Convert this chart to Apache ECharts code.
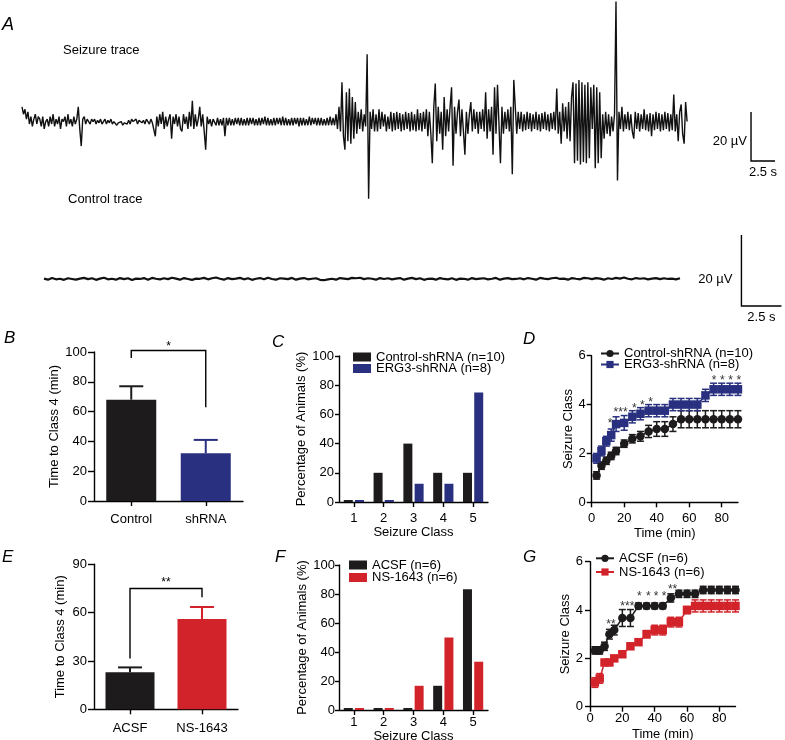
<!DOCTYPE html>
<html><head><meta charset="utf-8">
<script src="https://cdn.jsdelivr.net/npm/echarts@6/dist/echarts.min.js"></script>
<style>html,body{margin:0;padding:0;background:#fff}#c{width:785px;height:740px}</style>
</head><body><div id="c"></div>
<script>
// ---------------- DATA ----------------
// Panel A: EEG traces (µV), sampled at a fixed interval
const seizureDt_s = 0.1543;
const seizureTrace_uV = [
 6,3,5,1,4,-1,2,-2,1,3,
 -1,2,1,-2,2,-3,0,1,-2,2,
 -1,3,-2,1,-1,2,-3,1,0,2,
 -2,3,-1,1,-2,2,-1,1,6,-3,
 -10,1,2,-1,1,0,-1,1,0,1,
 -1,0.5,-0.5,1,-1,0,1,-1,0.5,-0.5,
 1,-1,0,0.5,-1.5,-0.5,-1,0,-1.5,-0.5,
 0,-1,0.5,-1,1,0,-0.5,1,-1,0.5,
 1,-0.5,0.5,-1,1,0,-1,1,-0.5,0,
 -6,2,-2,3,-1,4,-3,2,-2,1,
 3,-7,2,-1,3,-2,2,-3,-4,3,
 -1,2,-3,4,-2,8.5,-3,3,-2,1,
 6,-2,3,-4,-11.5,2,-1,1,-2,1,
 1.5,-1.5,1.5,-1.5,1,-1.5,1.5,-6,1.5,-1.5,
 1.5,-1.5,1,-1.5,1.5,-1,1.5,-1.5,1.5,-1.5,
 1,-1.5,1.5,-1.5,1.5,-1,1.5,-1.5,1,-1.5,
 1.5,-1.5,1.5,-1,2,-1.5,1.5,-1.5,1,-1.5,
 1.5,-1.5,1.5,-1,1.5,-1.5,2,-1.5,1.5,-1.5,
 1,-1.5,1.5,-1.5,1.5,-1,1.5,-2,1.5,-1.5,
 1.5,-1.5,1,-1.5,2,-1.5,1.5,-1,1.5,-1.5,
 1.5,-1.5,1.5,-1.5,1,-1.5,1.5,-1.5,2,-1.5,
 1.5,-1.5,3,-3,6,-4,16,-6,-11.5,12,
 -8,13.5,-9,10,-7,8,-5,4,-3,5,
 -4,3,-2,27.5,-31.5,4,-3,5,-4,3,
 -4,5,-3,4,-2,3,-4,2,-3,4,
 -4,3.5,-3.5,4,-3,3.5,-4,3,-3.5,4,
 -3,3.5,-4,4,-3.5,3,-4,5,-3.5,3.5,
 -4,4,-3,5,-6,4,-5,-17,6,15.5,
 -8,6,-5,4,-11.5,10,-6,5,-4,6,
 14,-18,6,-5,4,9,-6,5,-4,-13.5,
 4,-5,3,8,-4,5,-3,4,-5,4,
 -3,5,-4,12,-7,5,-4,6,-13.5,14,
 -5,15,15.5,-17,6,-5,4,-3,5,-4,
 6,-21.5,17,17,-5,4,-3,4,-4,3,
 -3.5,4,-3,3.5,-4,3,-3,4,-3.5,3,
 -4,3.5,-3,4,-3.5,3,-4,3.5,-3,4,
 -3.5,13.5,-5,4,-9,7.5,-4,6,-7,8,
 -8,10,16,-17,15.5,-16,17,-17.5,16,-16.5,
 15,-17,16,-15,14,-3,15,-19,14,-17,
 12,-15,3,-7,4,-5,3,-6,2,-4,
 3,49,-24,4,-3,6,-4,3,-3,4,
 -3.5,3,-4,-7,4,-3,3.5,-4,3,-3,
 5,-3.5,3,-4,3.5,-6,3,-3.5,4,-3,
 3.5,-4,3,-3.5,4,-3,3.5,-4,3,-3.5,
 11,-4,3,-8,4,7,-5,-9,8,0
];
const controlDt_s = 0.25;
const controlTrace_uV = [
 0.1,-0.2,0.25,-0.1,0.05,-0.25,0.2,0.0,-0.2,0.1,
 0.3,-0.05,0.2,-0.25,0.1,0.35,-0.1,0.05,-0.2,0.25,
 -0.05,0.2,-0.3,0.1,0.0,0.25,-0.2,0.3,0.05,-0.1,
 0.2,-0.05,0.35,0.1,-0.2,0.25,0.0,-0.25,0.1,0.05,
 0.3,-0.1,0.2,0.4,0.05,-0.2,0.25,-0.05,0.1,0.3,
 -0.1,0.2,-0.25,0.05,0.25,-0.1,0.35,0.0,-0.2,0.2,
 0.1,-0.05,0.3,-0.2,0.1,0.25,-0.1,0.05,0.2,-0.25,
 -0.35,-0.1,0.05,-0.2,0.25,0.1,-0.05,0.3,0.2,0.35,
 -0.05,0.2,0.05,-0.2,0.25,0.0,0.2,-0.1,0.1,0.25,
 -0.2,0.1,0.3,-0.05,0.2,-0.25,0.05,0.1,-0.2,0.25,
 0.0,-0.1,0.2,-0.25,0.1,0.05,-0.2,0.25,-0.05,0.1,
 0.2,-0.1,0.05,0.3,-0.2,0.1,0.25,-0.05,0.0,0.2,
 -0.1,0.25,0.05,-0.2,0.3,0.1,-0.05,0.2,0.35,0.0,
 0.1,-0.2,0.25,0.05,-0.1,0.3,0.2,-0.05,0.25,0.1,
 -0.2,0.2,0.0,0.3,0.1,0.4,0.05,-0.1,0.25,0.05,
 0.2,-0.1,0.1,0.25,-0.05,0.2,0.0,0.1,-0.1,0.2
];
const scaleBarAmp_uV = 20;
const scaleBarTime_s = 2.5;
const seizureScaleAnchor = [75.94, -16.1];   // [s, µV]
const controlScaleAnchor = [43.59, -7.6];

// Panel B
const groupsB = ['Control', 'shRNA'];
const meanB = [68, 32];
const semB = [9, 9];
const bracketB = [0, 1, 101, 96, 63];   // from, to, top, left end, right end
const sigB = '*';

// Panel C
const seizureClasses = ['1', '2', '3', '4', '5'];
const pctControlShRNA = [0, 20, 40, 20, 20];
const pctERG3ShRNA = [0, 0, 12.5, 12.5, 75];

// Panel D
const timesMin = [3, 6, 9, 12, 15, 20, 25, 30, 35, 40, 45, 50, 55, 60, 65, 70, 75, 80, 85, 90];
const classControlShRNA = [1.1, 1.5, 1.7, 1.9, 2.1, 2.4, 2.6, 2.7, 2.9, 3.0, 3.0, 3.2, 3.4, 3.4, 3.4, 3.4, 3.4, 3.4, 3.4, 3.4];
const semControlShRNA = [0.15, 0.15, 0.15, 0.15, 0.15, 0.15, 0.17, 0.2, 0.25, 0.3, 0.3, 0.3, 0.35, 0.35, 0.35, 0.35, 0.35, 0.35, 0.35, 0.35];
const classERG3ShRNA = [1.8, 2.1, 2.5, 2.75, 3.2, 3.25, 3.5, 3.625, 3.75, 3.75, 3.75, 4.0, 4.0, 4.0, 4.0, 4.375, 4.625, 4.625, 4.625, 4.625];
const semERG3ShRNA = [0.2, 0.2, 0.2, 0.25, 0.3, 0.3, 0.25, 0.25, 0.25, 0.25, 0.25, 0.25, 0.25, 0.25, 0.25, 0.25, 0.25, 0.25, 0.25, 0.25];
const starsDAt = [[11.3, 3.34], [17.8, 3.78], [26.2, 3.94], [31.2, 4.08], [36.3, 4.19], [75.3, 5.1], [80.4, 5.1], [85.5, 5.1], [90.6, 5.1]];
const starsDText = ['*', '***', '*', '*', '*', '*', '*', '*', '*'];

// Panel E
const groupsE = ['ACSF', 'NS-1643'];
const meanE = [23, 56];
const semE = [3, 7.5];
const bracketE = [0, 1, 75, 31.5, 69.5];
const sigE = '**';

// Panel F
const pctACSF = [0, 0, 0, 16.7, 83.3];
const pctNS1643 = [0, 0, 16.7, 50, 33.3];

// Panel G
const classACSF = [2.33, 2.33, 2.5, 3.0, 3.17, 3.67, 3.67, 4.17, 4.17, 4.17, 4.17, 4.5, 4.67, 4.67, 4.67, 4.83, 4.83, 4.83, 4.83, 4.83];
const semACSF = [0.15, 0.15, 0.17, 0.2, 0.2, 0.35, 0.35, 0.12, 0.12, 0.12, 0.12, 0.17, 0.15, 0.15, 0.15, 0.15, 0.15, 0.15, 0.15, 0.15];
const classNS1643 = [1.0, 1.17, 1.83, 1.83, 2.0, 2.17, 2.5, 2.67, 3.0, 3.17, 3.17, 3.5, 3.5, 4.0, 4.17, 4.17, 4.17, 4.17, 4.17, 4.17];
const semNS1643 = [0.2, 0.2, 0.05, 0.05, 0.05, 0.1, 0.1, 0.1, 0.15, 0.2, 0.2, 0.2, 0.2, 0.15, 0.25, 0.25, 0.25, 0.25, 0.25, 0.25];
const starsGAt = [[13, 3.5], [23.1, 4.28], [30.5, 4.69], [36.1, 4.69], [40.8, 4.69], [45.8, 4.69], [51.1, 4.97]];
const starsGText = ['**', '***', '*', '*', '*', '*', '**'];

// ---------------- STYLE ----------------
const FONT = '"Liberation Sans", Arial, Helvetica, sans-serif';
const BLACK = '#1d1b1c', BLUE = '#28307f', RED = '#d2232b';
const AX = '#000';

function yAx(gi, min, max, interval, name, nameGap, margin, tickLen) {
  return {
    gridIndex: gi, type: 'value', min, max, interval,
    name, nameLocation: 'middle', nameGap, nameRotate: 90,
    nameTextStyle: { color: '#000', fontSize: 13, fontFamily: FONT },
    axisLine: { show: true, lineStyle: { color: AX, width: 1.4 } },
    axisTick: { show: true, length: tickLen, lineStyle: { color: AX, width: 1.4 } },
    axisLabel: { color: '#000', fontSize: 13, fontFamily: FONT, margin },
    splitLine: { show: false }
  };
}
function xCat(gi, data, margin, name, nameGap) {
  return {
    gridIndex: gi, type: 'category', data,
    name: name || '', nameLocation: 'middle', nameGap: nameGap || 0,
    nameTextStyle: { color: '#000', fontSize: 13, fontFamily: FONT },
    axisLine: { show: true, lineStyle: { color: AX, width: 1.4 } },
    axisTick: { show: true, alignWithLabel: true, length: 5, lineStyle: { color: AX, width: 1.4 } },
    axisLabel: { color: '#000', fontSize: 13, fontFamily: FONT, margin, interval: 0 },
    splitLine: { show: false }
  };
}
const timeTicks = [0, 20, 40, 60, 80];
function xTime(gi, margin, nameGap) {
  return {
    gridIndex: gi, type: 'value', min: 0, max: 90, interval: 20,
    name: 'Time (min)', nameLocation: 'middle', nameGap,
    nameTextStyle: { color: '#000', fontSize: 13, fontFamily: FONT },
    axisLine: { show: true, lineStyle: { color: AX, width: 1.4 } },
    axisTick: { show: true, length: 5, lineStyle: { color: AX, width: 1.4 }, customValues: timeTicks },
    axisLabel: { color: '#000', fontSize: 13, fontFamily: FONT, margin, customValues: timeTicks },
    splitLine: { show: false }
  };
}

function scaleBarRender(o) {
  return function (params, api) {
    const t0 = api.value(0), v0 = api.value(1);
    const base = api.coord([t0, v0]);
    const top = api.coord([t0, v0 + scaleBarAmp_uV]);
    const right = api.coord([t0 + scaleBarTime_s, v0]);
    return { type: 'group', children: [
      { type: 'polyline', shape: { points: [top, base, right] }, style: { stroke: '#000', lineWidth: 1.4, fill: 'none' } },
      { type: 'text', x: base[0] + o.ampDx, y: (base[1] + top[1]) / 2 + o.ampDy,
        style: { text: scaleBarAmp_uV + ' µV', align: 'right', verticalAlign: 'middle', font: '13px ' + FONT, fill: '#000' } },
      { type: 'text', x: (base[0] + right[0]) / 2, y: base[1] + o.timeDy,
        style: { text: scaleBarTime_s + ' s', align: 'center', verticalAlign: 'middle', font: '13px ' + FONT, fill: '#000' } }
    ] };
  };
}
function upErrRender(colors, half) {
  return function (params, api) {
    const x = api.value(0), y = api.value(1), e = api.value(2);
    const p0 = api.coord([x, y]), p1 = api.coord([x, y + e]);
    const st = { stroke: colors[params.dataIndex], lineWidth: 2 };
    return { type: 'group', children: [
      { type: 'line', shape: { x1: p0[0], y1: p0[1], x2: p1[0], y2: p1[1] }, style: st },
      { type: 'line', shape: { x1: p1[0] - half, y1: p1[1], x2: p1[0] + half, y2: p1[1] }, style: st }
    ] };
  };
}
function errRender(color, half) {
  return function (params, api) {
    const x = api.value(0), y = api.value(1), e = api.value(2);
    const lo = api.coord([x, y - e]), hi = api.coord([x, y + e]);
    const st = { stroke: color, lineWidth: 1.5 };
    return { type: 'group', children: [
      { type: 'line', shape: { x1: lo[0], y1: lo[1], x2: hi[0], y2: hi[1] }, style: st },
      { type: 'line', shape: { x1: hi[0] - half, y1: hi[1], x2: hi[0] + half, y2: hi[1] }, style: st },
      { type: 'line', shape: { x1: lo[0] - half, y1: lo[1], x2: lo[0] + half, y2: lo[1] }, style: st }
    ] };
  };
}
function bracketRender(text, dy) {
  return function (params, api) {
    const a = api.value(0), b = api.value(1), top = api.value(2), le = api.value(3), re = api.value(4);
    const pL = api.coord([a, le]), pLT = api.coord([a, top]), pRT = api.coord([b, top]), pR = api.coord([b, re]);
    return { type: 'group', children: [
      { type: 'polyline', shape: { points: [pL, pLT, pRT, pR] }, style: { stroke: '#000', lineWidth: 1.4, fill: 'none' } },
      { type: 'text', x: (pLT[0] + pRT[0]) / 2, y: pLT[1] + dy,
        style: { text, align: 'center', verticalAlign: 'middle', font: '12px ' + FONT, fill: '#000' } }
    ] };
  };
}
function starRender(texts) {
  return function (params, api) {
    const p = api.coord([api.value(0), api.value(1)]);
    return { type: 'text', x: p[0], y: p[1] + 3,
      style: { text: texts[params.dataIndex], align: 'center', verticalAlign: 'middle', font: '12px ' + FONT, fill: '#333' } };
  };
}
function legendItem(name, left, cy, w, h, icon) {
  const l = { left, top: cy - 6.5, orient: 'horizontal', padding: 0, itemWidth: w, itemHeight: h, itemGap: 0,
    data: [name], formatter: n => n.trim(), selectedMode: false,
    textStyle: { color: '#000', fontSize: 13, fontFamily: FONT, lineHeight: 13 } };
  if (icon) l.icon = icon;
  return l;
}
const noGap = { outerBoundsMode: 'none', containLabel: false };

const option = {
  animation: false,
  backgroundColor: '#fff',
  textStyle: { fontFamily: FONT },
  grid: [
    Object.assign({ left: 22, top: 0, width: 753, height: 200 }, noGap),
    Object.assign({ left: 44, top: 200, width: 738, height: 140 }, noGap),
    Object.assign({ left: 94, top: 352, width: 149, height: 149 }, noGap),
    Object.assign({ left: 339, top: 356, width: 149, height: 146 }, noGap),
    Object.assign({ left: 591.7, top: 355.7, width: 146.25, height: 146.6 }, noGap),
    Object.assign({ left: 94, top: 564.3, width: 144, height: 145 }, noGap),
    Object.assign({ left: 339, top: 565, width: 149, height: 145 }, noGap),
    Object.assign({ left: 590, top: 561.7, width: 145.5, height: 145 }, noGap)
  ],
  xAxis: [
    { gridIndex: 0, type: 'value', min: 0, max: 78.4375, show: false },
    { gridIndex: 1, type: 'value', min: 0, max: 46.125, show: false },
    xCat(2, groupsB, 12),
    xCat(3, seizureClasses, 10, 'Seizure Class', 24),
    xTime(4, 10, 25),
    xCat(5, groupsE, 13),
    xCat(6, seizureClasses, 6, 'Seizure Class', 18),
    xTime(7, 5, 21)
  ],
  yAxis: [
    { gridIndex: 0, type: 'value', min: -32.0, max: 49.6, show: false },
    { gridIndex: 1, type: 'value', min: -17.2, max: 22.25, show: false },
    yAx(2, 0, 100, 20, 'Time to Class 4 (min)', 27, 7, 6),
    yAx(3, 0, 100, 20, 'Percentage of Animals (%)', 25, 5, 4),
    yAx(4, 0, 6, 2, 'Seizure Class', 17, 6, 5),
    yAx(5, 0, 90, 30, 'Time to Class 4 (min)', 27, 7, 6),
    yAx(6, 0, 100, 20, 'Percentage of Animals (%)', 24, 4, 4),
    yAx(7, 0, 6, 2, 'Seizure Class', 16.5, 7, 5)
  ],
  legend: [
    legendItem('Control-shRNA (n=10)', 353, 357, 18, 9, 'rect'),
    legendItem('ERG3-shRNA (n=8)', 353, 368.5, 18, 9, 'rect'),
    legendItem('Control-shRNA (n=10) ', 600, 353.5, 18, 9),
    legendItem('ERG3-shRNA (n=8) ', 600, 364.5, 18, 9),
    legendItem('ACSF (n=6)', 349, 565, 18, 9, 'rect'),
    legendItem('NS-1643 (n=6)', 349, 577.5, 18, 9, 'rect'),
    legendItem('ACSF (n=6) ', 595, 558.3, 18, 9),
    legendItem('NS-1643 (n=6) ', 595, 572, 18, 9)
  ],
  graphic: [
    { type: 'text', x: 2, y: 25, style: { text: 'A', font: 'italic 18px ' + FONT, fill: '#000', verticalAlign: 'middle' } },
    { type: 'text', x: 4, y: 338.5, style: { text: 'B', font: 'italic 17px ' + FONT, fill: '#000', verticalAlign: 'middle' } },
    { type: 'text', x: 272, y: 342, style: { text: 'C', font: 'italic 17px ' + FONT, fill: '#000', verticalAlign: 'middle' } },
    { type: 'text', x: 523, y: 339.5, style: { text: 'D', font: 'italic 17px ' + FONT, fill: '#000', verticalAlign: 'middle' } },
    { type: 'text', x: 2, y: 557, style: { text: 'E', font: 'italic 17px ' + FONT, fill: '#000', verticalAlign: 'middle' } },
    { type: 'text', x: 275, y: 557.5, style: { text: 'F', font: 'italic 17px ' + FONT, fill: '#000', verticalAlign: 'middle' } },
    { type: 'text', x: 523, y: 557.5, style: { text: 'G', font: 'italic 17px ' + FONT, fill: '#000', verticalAlign: 'middle' } },
    { type: 'text', x: 63, y: 50, style: { text: 'Seizure trace', font: '13px ' + FONT, fill: '#000', verticalAlign: 'middle' } },
    { type: 'text', x: 68, y: 199, style: { text: 'Control trace', font: '13px ' + FONT, fill: '#000', verticalAlign: 'middle' } }
  ],
  series: [
    { type: 'line', name: 'seizure', xAxisIndex: 0, yAxisIndex: 0, symbol: 'none', silent: true,
      lineStyle: { color: '#111', width: 1.4 }, data: seizureTrace_uV.map((v, i) => [i * seizureDt_s, v]) },
    { type: 'line', name: 'control', xAxisIndex: 1, yAxisIndex: 1, symbol: 'none', silent: true,
      lineStyle: { color: '#111', width: 2.2 }, data: controlTrace_uV.map((v, i) => [i * controlDt_s, v]) },
    { type: 'custom', xAxisIndex: 0, yAxisIndex: 0, silent: true, data: [seizureScaleAnchor],
      renderItem: scaleBarRender({ ampDx: -4, ampDy: 4.5, timeDy: 11 }) },
    { type: 'custom', xAxisIndex: 1, yAxisIndex: 1, silent: true, data: [controlScaleAnchor],
      renderItem: scaleBarRender({ ampDx: -9, ampDy: 9, timeDy: 11 }) },

    // B
    { type: 'bar', xAxisIndex: 2, yAxisIndex: 2, barWidth: 50,
      data: meanB.map((v, i) => ({ value: v, itemStyle: { color: [BLACK, BLUE][i] } })) },
    { type: 'custom', xAxisIndex: 2, yAxisIndex: 2, z: 3, data: meanB.map((v, i) => [i, v, semB[i]]),
      renderItem: upErrRender([BLACK, BLUE], 12) },
    { type: 'custom', xAxisIndex: 2, yAxisIndex: 2, z: 3, data: [bracketB], renderItem: bracketRender(sigB, -4) },

    // C
    { type: 'bar', name: 'Control-shRNA (n=10)', xAxisIndex: 3, yAxisIndex: 3, barWidth: 9, barGap: '25%', barMinHeight: 2,
      itemStyle: { color: BLACK }, data: pctControlShRNA },
    { type: 'bar', name: 'ERG3-shRNA (n=8)', xAxisIndex: 3, yAxisIndex: 3, barWidth: 9, barGap: '25%', barMinHeight: 2,
      itemStyle: { color: BLUE }, data: pctERG3ShRNA },

    // D
    { type: 'custom', xAxisIndex: 4, yAxisIndex: 4, z: 2, data: timesMin.map((t, i) => [t, classControlShRNA[i], semControlShRNA[i]]),
      renderItem: errRender(BLACK, 3.5) },
    { type: 'custom', xAxisIndex: 4, yAxisIndex: 4, z: 2, data: timesMin.map((t, i) => [t, classERG3ShRNA[i], semERG3ShRNA[i]]),
      renderItem: errRender(BLUE, 3.5) },
    { type: 'line', name: 'Control-shRNA (n=10) ', xAxisIndex: 4, yAxisIndex: 4, z: 3, symbol: 'circle', symbolSize: 8.5,
      itemStyle: { color: BLACK }, lineStyle: { color: BLACK, width: 1.5 }, data: timesMin.map((t, i) => [t, classControlShRNA[i]]) },
    { type: 'line', name: 'ERG3-shRNA (n=8) ', xAxisIndex: 4, yAxisIndex: 4, z: 3, symbol: 'rect', symbolSize: 8.5,
      itemStyle: { color: BLUE }, lineStyle: { color: BLUE, width: 1.5 }, data: timesMin.map((t, i) => [t, classERG3ShRNA[i]]) },
    { type: 'custom', xAxisIndex: 4, yAxisIndex: 4, z: 4, data: starsDAt, renderItem: starRender(starsDText) },

    // E
    { type: 'bar', xAxisIndex: 5, yAxisIndex: 5, barWidth: 49,
      data: meanE.map((v, i) => ({ value: v, itemStyle: { color: [BLACK, RED][i] } })) },
    { type: 'custom', xAxisIndex: 5, yAxisIndex: 5, z: 3, data: meanE.map((v, i) => [i, v, semE[i]]),
      renderItem: upErrRender([BLACK, RED], 12) },
    { type: 'custom', xAxisIndex: 5, yAxisIndex: 5, z: 3, data: [bracketE], renderItem: bracketRender(sigE, -6) },

    // F
    { type: 'bar', name: 'ACSF (n=6)', xAxisIndex: 6, yAxisIndex: 6, barWidth: 9, barGap: '25%', barMinHeight: 2,
      itemStyle: { color: BLACK }, data: pctACSF },
    { type: 'bar', name: 'NS-1643 (n=6)', xAxisIndex: 6, yAxisIndex: 6, barWidth: 9, barGap: '25%', barMinHeight: 2,
      itemStyle: { color: RED }, data: pctNS1643 },

    // G
    { type: 'custom', xAxisIndex: 7, yAxisIndex: 7, z: 2, data: timesMin.map((t, i) => [t, classACSF[i], semACSF[i]]),
      renderItem: errRender(BLACK, 3.5) },
    { type: 'custom', xAxisIndex: 7, yAxisIndex: 7, z: 2, data: timesMin.map((t, i) => [t, classNS1643[i], semNS1643[i]]),
      renderItem: errRender(RED, 3.5) },
    { type: 'line', name: 'ACSF (n=6) ', xAxisIndex: 7, yAxisIndex: 7, z: 3, symbol: 'circle', symbolSize: 8.5,
      itemStyle: { color: BLACK }, lineStyle: { color: BLACK, width: 1.5 }, data: timesMin.map((t, i) => [t, classACSF[i]]) },
    { type: 'line', name: 'NS-1643 (n=6) ', xAxisIndex: 7, yAxisIndex: 7, z: 3, symbol: 'rect', symbolSize: 8.5,
      itemStyle: { color: RED }, lineStyle: { color: RED, width: 1.5 }, data: timesMin.map((t, i) => [t, classNS1643[i]]) },
    { type: 'custom', xAxisIndex: 7, yAxisIndex: 7, z: 4, data: starsGAt, renderItem: starRender(starsGText) }
  ]
};

const chart = echarts.init(document.getElementById('c'), null, { renderer: 'canvas' });
chart.setOption(option);
</script></body></html>
